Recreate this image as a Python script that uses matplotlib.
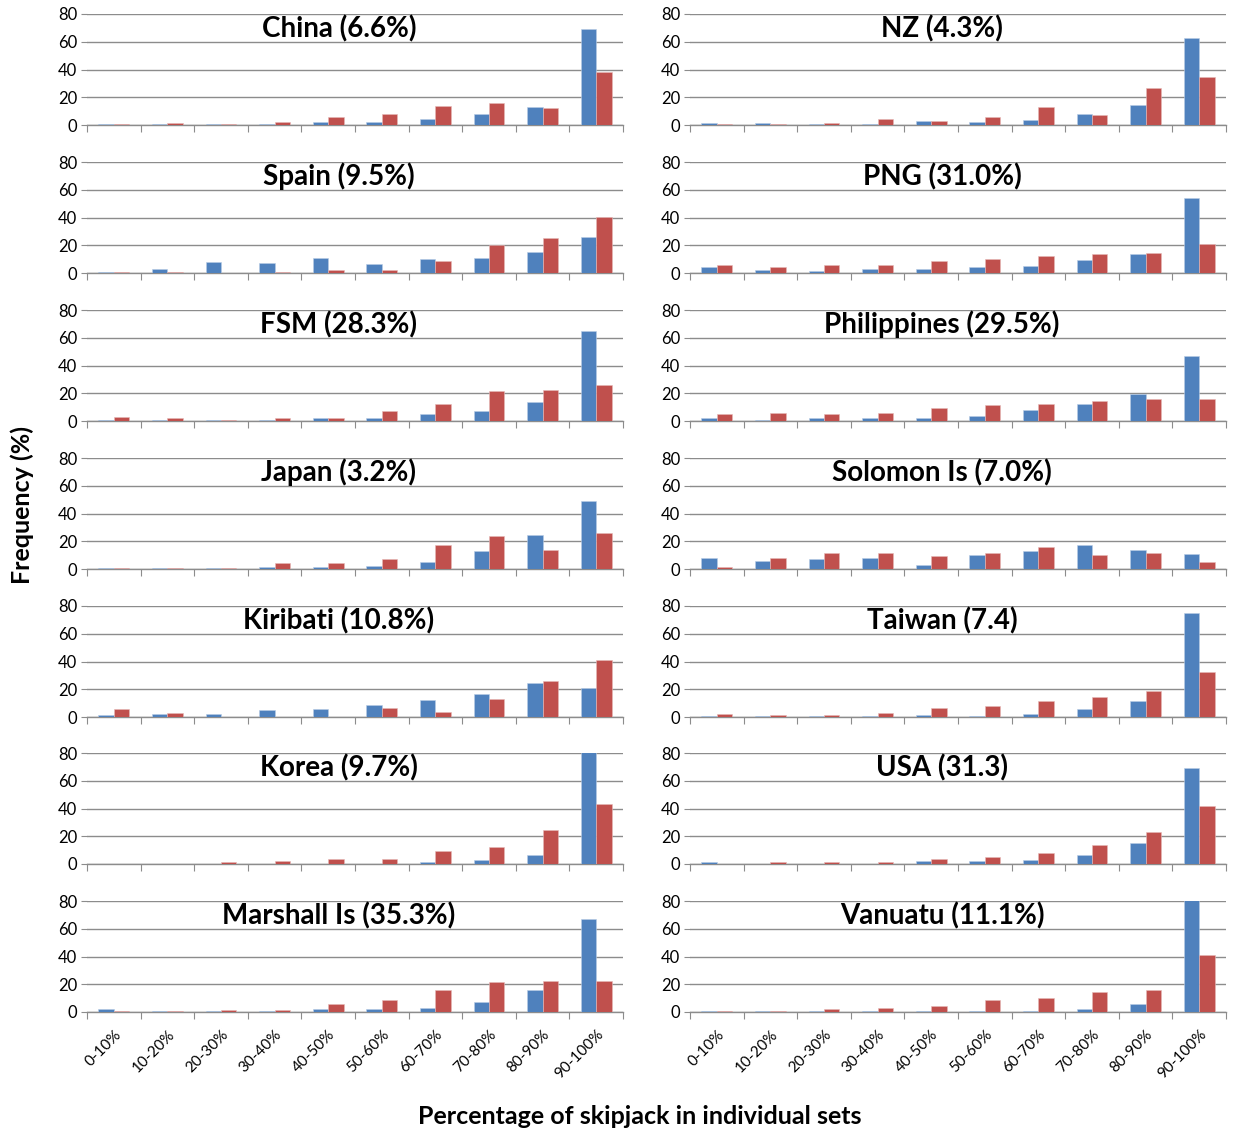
import matplotlib.pyplot as plt
import numpy as np

plt.rcParams['font.family'] = ['Lato', 'DejaVu Sans']

bins = ['0-10%', '10-20%', '20-30%', '30-40%', '40-50%',
        '50-60%', '60-70%', '70-80%', '80-90%', '90-100%']

# left column, top to bottom
china_blue = [1, 1, 1, 1, 2.5, 2, 4, 8, 13, 69]
china_red = [1, 1.5, 1, 2.5, 6, 8, 14, 15.5, 12.5, 38]
spain_blue = [1, 3.2, 8, 7.5, 11, 6.7, 10.4, 11, 15.4, 26.3]
spain_red = [1, 1, 0, 1, 2.5, 2.5, 9, 20, 25.4, 40.7]
fsm_blue = [1, 0.5, 1, 1, 2, 2, 4.9, 7.5, 14, 64.8]
fsm_red = [2.6, 2, 1, 2.5, 2.5, 7, 12, 21.4, 22, 25.7]
japan_blue = [1, 1, 1, 1.5, 1.5, 2.5, 5.4, 13.2, 24.2, 48.7]
japan_red = [1, 1, 1, 4.4, 4.4, 7.3, 17.5, 23.5, 14, 25.6]
kiribati_blue = [1.5, 2.2, 2, 5.2, 5.8, 8.9, 12.3, 16.6, 24.6, 21]
kiribati_red = [5.8, 3, 0, 0, 0, 6.5, 3.9, 13, 26, 41.3]
korea_blue = [0.3, 0.3, 0.3, 0.3, 0.3, 0.3, 1.3, 3, 6.4, 85]
korea_red = [0.3, 0.3, 1.3, 2, 3.4, 3.4, 9.2, 12, 24.4, 43.4]
marshall_blue = [2.5, 1, 1, 1, 2, 2, 3, 7.5, 15.5, 67]
marshall_red = [1, 1, 1.5, 1.5, 5.5, 9, 15.5, 21.5, 22.5, 22.5]

# right column, top to bottom
nz_blue = [1.5, 1.5, 1, 1, 3, 2.2, 3.9, 8.2, 14.6, 62.4]
nz_red = [1, 1, 1.5, 4.6, 3, 6, 13.2, 7.4, 26.9, 34.8]
png_blue = [4, 2.4, 1.5, 3.1, 3.1, 4, 5.2, 9.5, 13.8, 53.9]
png_red = [6, 4.5, 6, 6, 8.8, 10.3, 12.4, 13.9, 14.6, 21]
phil_blue = [2, 1, 2, 2, 2.5, 3.6, 7.7, 12, 19.3, 46.8]
phil_red = [5, 5.7, 5, 5.7, 9.3, 11.4, 12.2, 14.4, 15.9, 15.9]
solomon_blue = [8.2, 6, 7.5, 8.2, 3.1, 10.4, 13.3, 17.6, 14, 11]
solomon_red = [1.5, 8.2, 11.8, 11.8, 9.6, 11.8, 16.2, 10.4, 11.8, 5.3]
taiwan_blue = [1, 1, 1, 1, 1.5, 1, 2.5, 6, 11.8, 75.3]
taiwan_red = [2.5, 1.5, 1.5, 3, 6.7, 8.1, 11.8, 14.6, 18.9, 32.5]
usa_blue = [1.5, 0.3, 0.3, 0.3, 2, 2, 3, 6.4, 15, 69.3]
usa_red = [0.3, 1.5, 1.5, 1.5, 3.4, 5, 7.8, 14, 23, 41.9]
vanuatu_blue = [1, 1, 1, 1, 1, 1, 1, 2.5, 6, 85]
vanuatu_red = [1, 1, 2, 3, 4, 8.5, 10, 14.5, 16, 41]

left_panels = [
    ('China (6.6%)', china_blue, china_red),
    ('Spain (9.5%)', spain_blue, spain_red),
    ('FSM (28.3%)', fsm_blue, fsm_red),
    ('Japan (3.2%)', japan_blue, japan_red),
    ('Kiribati (10.8%)', kiribati_blue, kiribati_red),
    ('Korea (9.7%)', korea_blue, korea_red),
    ('Marshall Is (35.3%)', marshall_blue, marshall_red),
]
right_panels = [
    ('NZ (4.3%)', nz_blue, nz_red),
    ('PNG (31.0%)', png_blue, png_red),
    ('Philippines (29.5%)', phil_blue, phil_red),
    ('Solomon Is (7.0%)', solomon_blue, solomon_red),
    ('Taiwan (7.4)', taiwan_blue, taiwan_red),
    ('USA (31.3)', usa_blue, usa_red),
    ('Vanuatu (11.1%)', vanuatu_blue, vanuatu_red),
]

BLUE = '#4F81BD'
RED = '#C0504D'
GRID = '#8C8C8C'

W, H = 1236, 1133
fig = plt.figure(figsize=(W / 100, H / 100), dpi=100)

x = np.arange(len(bins))
bw = 1 / 3.5


def draw(ax, title, blue, red, last):
    ax.bar(x - bw / 2, blue, bw, color=BLUE, edgecolor='#B9CDE5', linewidth=0.4, zorder=3)
    ax.bar(x + bw / 2, red, bw, color=RED, edgecolor='#E6B9B8', linewidth=0.4, zorder=3)
    ax.set_xlim(-0.5, len(bins) - 0.5)
    ax.set_ylim(0, 80)
    ax.set_yticks([0, 20, 40, 60, 80])
    ax.yaxis.grid(True, color=GRID, linewidth=1, zorder=0)
    for s in ['top', 'right', 'left']:
        ax.spines[s].set_visible(False)
    ax.spines['bottom'].set_color(GRID)
    ax.spines['bottom'].set_linewidth(1)
    ax.tick_params(axis='y', length=4, color=GRID, labelsize=12, pad=3)
    # category boundaries get tick marks, centres get the labels
    ax.set_xticks(np.arange(-0.5, len(bins), 1))
    ax.set_xticklabels([])
    ax.tick_params(axis='x', which='major', length=5, color=GRID, direction='out')
    ax.set_xticks(x, minor=True)
    if last:
        ax.set_xticklabels(bins, minor=True, rotation=45, ha='right',
                           rotation_mode='anchor', fontsize=11)
    ax.tick_params(axis='x', which='minor', length=0, pad=11)
    ax.text(0.47, 0.87, title, transform=ax.transAxes, ha='center', va='center',
            fontsize=20, fontweight='bold')


tops = [14, 162, 310, 458, 606, 753, 901]
axh = 111
for col, (left_px, panels) in enumerate([(87, left_panels), (690, right_panels)]):
    for i, (title, blue, red) in enumerate(panels):
        bottom_px = tops[i] + axh
        ax = fig.add_axes([left_px / W, 1 - bottom_px / H, 536 / W, axh / H])
        draw(ax, title, blue, red, i == len(panels) - 1)

fig.text(22 / W, 1 - 505 / H, 'Frequency (%)', rotation=90, ha='center', va='center',
         fontsize=18, fontweight='bold')
fig.text(640 / W, 1 - 1117 / H, 'Percentage of skipjack in individual sets',
         ha='center', va='center', fontsize=18, fontweight='bold')

fig.savefig('out.png', dpi=100)
